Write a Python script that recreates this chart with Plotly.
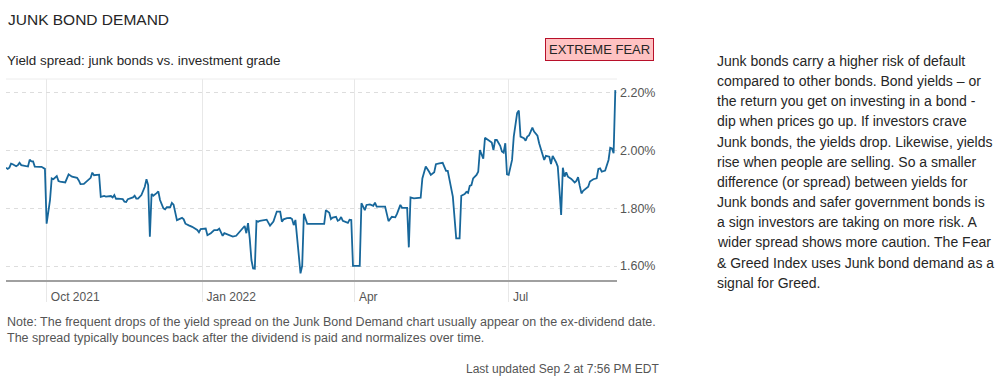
import plotly.graph_objects as go

# ---------------- DATA ----------------
dates = [
    "2021-09-07", "2021-09-08", "2021-09-09", "2021-09-10", "2021-09-11", "2021-09-13", "2021-09-14",
    "2021-09-15", "2021-09-16", "2021-09-18", "2021-09-20", "2021-09-21", "2021-09-22", "2021-09-23",
    "2021-09-24", "2021-09-27", "2021-09-28", "2021-09-30", "2021-10-01", "2021-10-03", "2021-10-04",
    "2021-10-05", "2021-10-06", "2021-10-07", "2021-10-08", "2021-10-09", "2021-10-12", "2021-10-14",
    "2021-10-16", "2021-10-19", "2021-10-20", "2021-10-21", "2021-10-23", "2021-10-25", "2021-10-27",
    "2021-10-28", "2021-10-29", "2021-11-01", "2021-11-02", "2021-11-04", "2021-11-05", "2021-11-08",
    "2021-11-09", "2021-11-10", "2021-11-11", "2021-11-12", "2021-11-15", "2021-11-16", "2021-11-17",
    "2021-11-18", "2021-11-21", "2021-11-22", "2021-11-23", "2021-11-24", "2021-11-26", "2021-11-28",
    "2021-11-29", "2021-11-30", "2021-12-01", "2021-12-02", "2021-12-03", "2021-12-05", "2021-12-06",
    "2021-12-07", "2021-12-09", "2021-12-10", "2021-12-11", "2021-12-13", "2021-12-14", "2021-12-15",
    "2021-12-17", "2021-12-18", "2021-12-20", "2021-12-21", "2021-12-22", "2021-12-24", "2021-12-26",
    "2021-12-29", "2021-12-30", "2021-12-31", "2022-01-03", "2022-01-04", "2022-01-06", "2022-01-08",
    "2022-01-10", "2022-01-11", "2022-01-13", "2022-01-14", "2022-01-17", "2022-01-19", "2022-01-21",
    "2022-01-23", "2022-01-25", "2022-01-26", "2022-01-27", "2022-01-28", "2022-01-29", "2022-01-30",
    "2022-01-31", "2022-02-01", "2022-02-02", "2022-02-03", "2022-02-04", "2022-02-06", "2022-02-08",
    "2022-02-10", "2022-02-12", "2022-02-14", "2022-02-16", "2022-02-17", "2022-02-18", "2022-02-20",
    "2022-02-22", "2022-02-23", "2022-02-24", "2022-02-25", "2022-02-27", "2022-02-28", "2022-03-01",
    "2022-03-02", "2022-03-04", "2022-03-14", "2022-03-15", "2022-03-17", "2022-03-18", "2022-03-19",
    "2022-03-21", "2022-03-22", "2022-03-23", "2022-03-24", "2022-03-25", "2022-03-27", "2022-03-28",
    "2022-03-29", "2022-03-30", "2022-03-31", "2022-04-04", "2022-04-05", "2022-04-07", "2022-04-08",
    "2022-04-10", "2022-04-12", "2022-04-13", "2022-04-14", "2022-04-19", "2022-04-20", "2022-04-21",
    "2022-04-23", "2022-04-25", "2022-04-26", "2022-04-28", "2022-04-29", "2022-05-02", "2022-05-03",
    "2022-05-04", "2022-05-06", "2022-05-10", "2022-05-11", "2022-05-13", "2022-05-15", "2022-05-16",
    "2022-05-18", "2022-05-19", "2022-05-21", "2022-05-23", "2022-05-25", "2022-05-26", "2022-05-29",
    "2022-05-31", "2022-06-02", "2022-06-03", "2022-06-05", "2022-06-06", "2022-06-07", "2022-06-08",
    "2022-06-09", "2022-06-10", "2022-06-12", "2022-06-13", "2022-06-14", "2022-06-16", "2022-06-17",
    "2022-06-19", "2022-06-21", "2022-06-22", "2022-06-23", "2022-06-24", "2022-06-26", "2022-06-27",
    "2022-06-28", "2022-06-29", "2022-06-30", "2022-07-01", "2022-07-03", "2022-07-04", "2022-07-06",
    "2022-07-07", "2022-07-08", "2022-07-10", "2022-07-11", "2022-07-12", "2022-07-13", "2022-07-14",
    "2022-07-15", "2022-07-16", "2022-07-18", "2022-07-19", "2022-07-21", "2022-07-22", "2022-07-23",
    "2022-07-25", "2022-07-26", "2022-07-27", "2022-07-29", "2022-07-30", "2022-07-31", "2022-08-01",
    "2022-08-02", "2022-08-03", "2022-08-04", "2022-08-05", "2022-08-07", "2022-08-09", "2022-08-10",
    "2022-08-11", "2022-08-12", "2022-08-13", "2022-08-14", "2022-08-16", "2022-08-17", "2022-08-18",
    "2022-08-20", "2022-08-22", "2022-08-23", "2022-08-24", "2022-08-25", "2022-08-27", "2022-08-28",
    "2022-08-29", "2022-08-30", "2022-08-31", "2022-09-01", "2022-09-02",
]

spread = [
    1.941, 1.937, 1.941, 1.955, 1.953, 1.946, 1.950,
    1.958, 1.950, 1.947, 1.945, 1.969, 1.963, 1.963,
    1.945, 1.944, 1.944, 1.937, 1.747, 1.829, 1.904,
    1.901, 1.906, 1.912, 1.895, 1.893, 1.890, 1.918,
    1.910, 1.906, 1.897, 1.884, 1.885, 1.895, 1.906,
    1.924, 1.915, 1.917, 1.840, 1.843, 1.841, 1.843,
    1.838, 1.846, 1.833, 1.834, 1.832, 1.823, 1.822,
    1.832, 1.838, 1.844, 1.834, 1.834, 1.846, 1.875,
    1.901, 1.881, 1.702, 1.850, 1.844, 1.853, 1.859,
    1.829, 1.800, 1.797, 1.804, 1.804, 1.819, 1.813,
    1.759, 1.762, 1.767, 1.762, 1.747, 1.741, 1.736,
    1.725, 1.717, 1.728, 1.730, 1.707, 1.714, 1.725,
    1.725, 1.730, 1.705, 1.714, 1.707, 1.702, 1.705,
    1.719, 1.733, 1.739, 1.714, 1.749, 1.696, 1.621,
    1.592, 1.591, 1.756, 1.754, 1.757, 1.759, 1.761,
    1.740, 1.754, 1.789, 1.789, 1.754, 1.762, 1.766,
    1.767, 1.763, 1.742, 1.760, 1.638, 1.575, 1.601,
    1.781, 1.746, 1.746, 1.794, 1.785, 1.763, 1.768,
    1.771, 1.757, 1.760, 1.770, 1.757, 1.754, 1.750,
    1.761, 1.760, 1.601, 1.601, 1.818, 1.794, 1.812,
    1.814, 1.809, 1.820, 1.806, 1.806, 1.781, 1.756,
    1.771, 1.769, 1.781, 1.812, 1.802, 1.802, 1.665,
    1.838, 1.835, 1.837, 1.904, 1.945, 1.927, 1.916,
    1.925, 1.953, 1.956, 1.958, 1.930, 1.930, 1.841,
    1.696, 1.696, 1.844, 1.850, 1.857, 1.854, 1.878,
    1.881, 1.904, 1.916, 1.927, 2.002, 1.972, 2.045,
    2.037, 2.028, 2.002, 2.037, 2.037, 2.017, 1.997,
    1.993, 2.026, 1.918, 1.916, 1.968, 2.049, 2.130,
    2.139, 2.049, 2.043, 2.035, 2.049, 2.053, 2.066,
    2.080, 2.066, 2.052, 2.026, 1.985, 1.968, 1.982,
    1.979, 1.954, 1.982, 1.960, 1.945, 1.864, 1.777,
    1.941, 1.910, 1.925, 1.910, 1.902, 1.890, 1.895,
    1.908, 1.878, 1.852, 1.861, 1.870, 1.875, 1.893,
    1.901, 1.904, 1.937, 1.939, 1.927, 1.931, 1.950,
    1.968, 2.010, 2.008, 1.991, 2.210,
]

x_tick_dates = ["2021-10-01", "2022-01-01", "2022-04-01", "2022-07-01"]
x_tick_labels = ["Oct 2021", "Jan 2022", "Apr", "Jul"]
y_tick_vals = [1.6, 1.8, 2.0, 2.2]
y_tick_labels = ["1.60%", "1.80%", "2.00%", "2.20%"]

title_text = "JUNK BOND DEMAND"
subtitle_text = "Yield spread: junk bonds vs. investment grade"
badge_text = "EXTREME FEAR"
description_lines = [
    "Junk bonds carry a higher risk of default",
    "compared to other bonds. Bond yields \u2013 or",
    "the return you get on investing in a bond -",
    "dip when prices go up. If investors crave",
    "Junk bonds, the yields drop. Likewise, yields",
    "rise when people are selling. So a smaller",
    "difference (or spread) between yields for",
    "Junk bonds and safer government bonds is",
    "a sign investors are taking on more risk. A",
    "wider spread shows more caution. The Fear",
    "& Greed Index uses Junk bond demand as a",
    "signal for Greed.",
]
note_lines = [
    "Note: The frequent drops of the yield spread on the Junk Bond Demand chart usually appear on the ex-dividend date.",
    "The spread typically bounces back after the dividend is paid and normalizes over time.",
]
updated_text = "Last updated Sep 2 at 7:56 PM EDT"

# ---------------- LAYOUT GEOMETRY ----------------
W, H = 1003, 377
L, R, T, B = 6, 616.7, 79, 280   # plot area in pixels


def px(x):
    return (x - L) / (R - L)


def py(y):
    return (B - y) / (B - T)


FONT = "Liberation Sans, Arial, Helvetica, sans-serif"

fig = go.Figure()
fig.add_trace(go.Scatter(
    x=dates, y=spread, mode="lines",
    line=dict(color="#17679b", width=1.8),
    hoverinfo="x+y", showlegend=False,
))

annotations = [
    dict(text=title_text, x=px(6), y=py(19), xref="paper", yref="paper",
         xanchor="left", yanchor="middle", showarrow=False,
         font=dict(family=FONT, size=15.5, color="#262626")),
    dict(text=subtitle_text, x=px(5), y=py(61), xref="paper", yref="paper",
         xanchor="left", yanchor="middle", showarrow=False,
         font=dict(family=FONT, size=13.4, color="#262626")),
    dict(text=badge_text, x=px(599), y=py(49.5), xref="paper", yref="paper",
         xanchor="center", yanchor="middle", showarrow=False,
         bgcolor="#ffc2c2", bordercolor="#b8102a", borderwidth=1, borderpad=3,
         font=dict(family=FONT, size=13, color="#262626")),
    dict(text="<br>".join(note_lines), x=px(5), y=py(313), xref="paper", yref="paper",
         xanchor="left", yanchor="top", align="left", showarrow=False,
         font=dict(family=FONT, size=12.5, color="#555555")),
    dict(text=updated_text, x=px(661), y=py(369), xref="paper", yref="paper",
         xanchor="right", yanchor="middle", showarrow=False,
         font=dict(family=FONT, size=12, color="#555555")),
]
for i, line in enumerate(description_lines):
    annotations.append(dict(
        text=line, x=px(715), y=py(61 + i * 20.15), xref="paper", yref="paper",
        xanchor="left", yanchor="middle", align="left", showarrow=False,
        font=dict(family=FONT, size=14, color="#262626")))

shapes = [
    dict(type="line", xref="paper", yref="paper", x0=0, x1=1, y0=1, y1=1,
         line=dict(color="#ececec", width=1)),
]

fig.update_layout(
    width=W, height=H,
    margin=dict(l=L, r=W - R, t=T, b=H - B, pad=0),
    paper_bgcolor="white", plot_bgcolor="white",
    annotations=annotations, shapes=shapes,
    xaxis=dict(
        type="date", range=["2021-09-07", "2022-09-03"],
        tickvals=x_tick_dates, ticktext=x_tick_labels,
        showgrid=True, gridcolor="#e8e8e8", gridwidth=1,
        ticks="outside", ticklen=20, tickcolor="#e8e8e8", tickwidth=1,
        ticklabelposition="outside right", ticklabelstandoff=5, ticklabelshift=3,
        showline=True, linecolor="#a0a0a0", linewidth=1.5,
        zeroline=False,
        tickfont=dict(family=FONT, size=12, color="#555555"),
    ),
    yaxis=dict(
        range=[1.5518, 2.2485], side="right",
        tickvals=y_tick_vals, ticktext=y_tick_labels,
        showgrid=True, gridcolor="#dddddd", gridwidth=1, griddash="4px,4px",
        ticks="", showline=False, zeroline=False, ticklabelstandoff=2,
        tickfont=dict(family=FONT, size=12.5, color="#555555"),
    ),
    hovermode="x",
)

fig.write_html("out.html", config={"displayModeBar": False},
               post_script="document.body.style.margin='0';")
